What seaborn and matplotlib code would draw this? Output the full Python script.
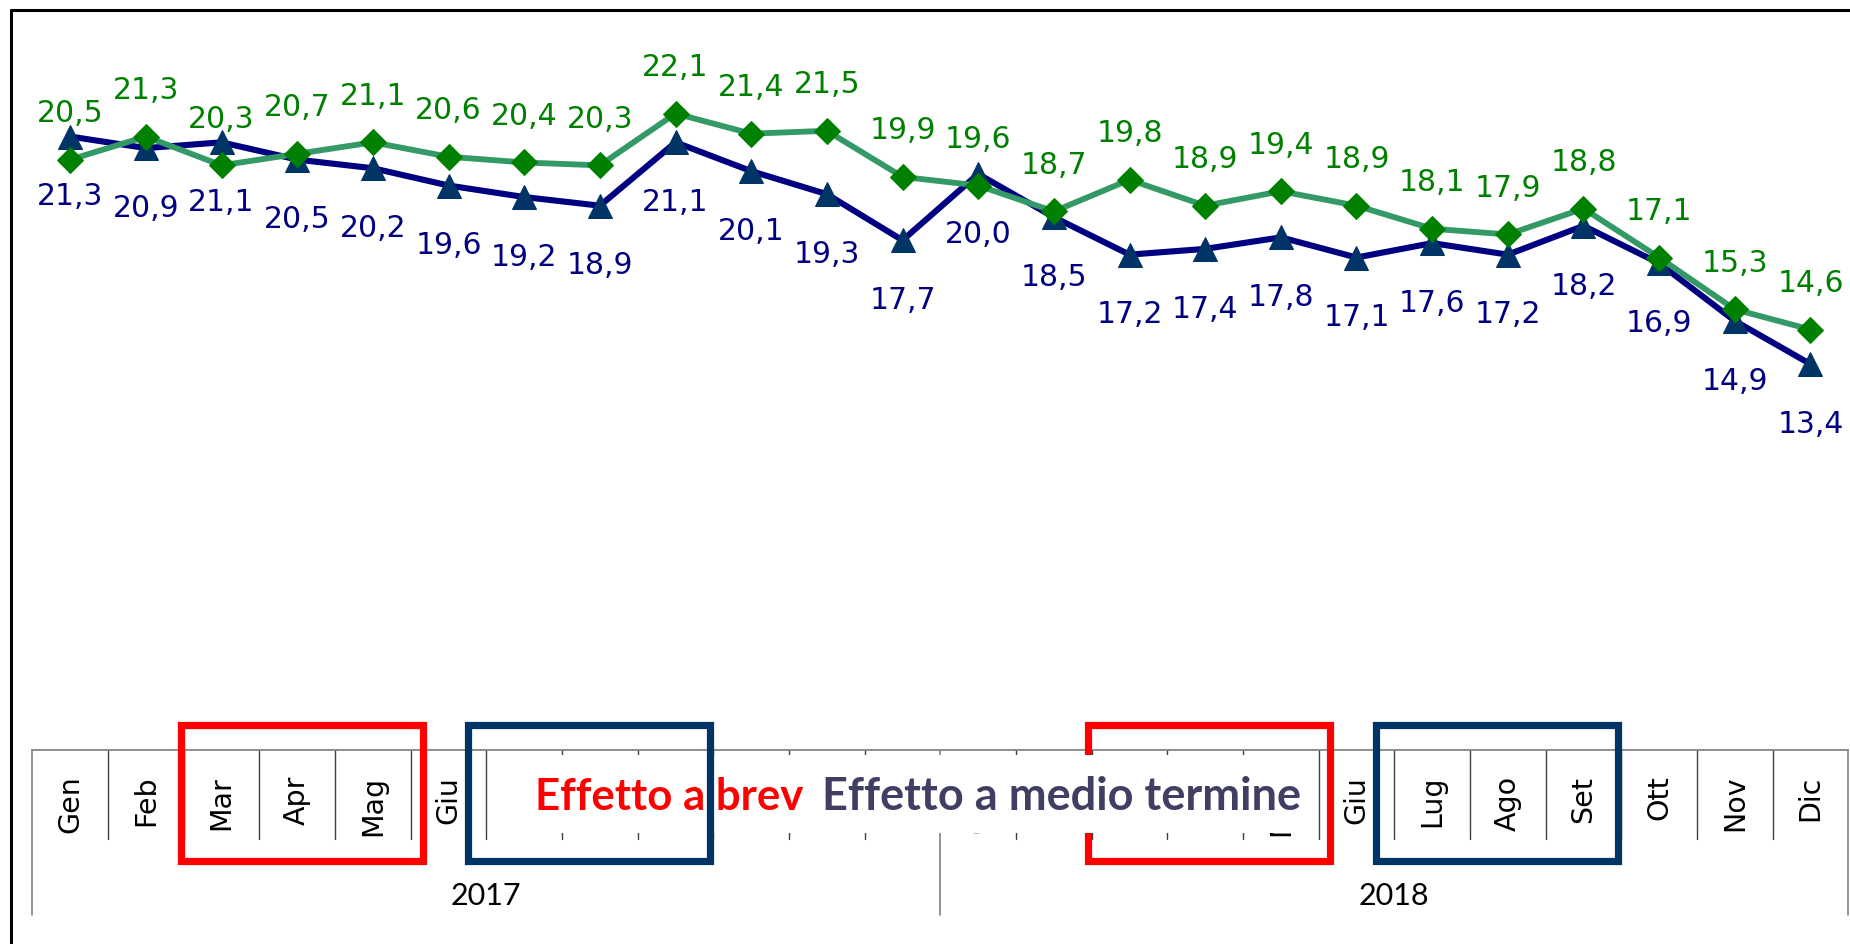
import matplotlib
matplotlib.use("Agg")
import numpy as np
import pandas as pd
import seaborn as sns
import matplotlib.pyplot as plt
import matplotlib.transforms as mtrans
from matplotlib.patches import Rectangle
from matplotlib.lines import Line2D

# ---------------- data ----------------
mesi = ["Gen", "Feb", "Mar", "Apr", "Mag", "Giu", "Lug", "Ago", "Set", "Ott", "Nov", "Dic"]
anni = ["2017", "2018"]
serie_verde = [20.5, 21.3, 20.3, 20.7, 21.1, 20.6, 20.4, 20.3, 22.1, 21.4, 21.5, 19.9,
               19.6, 18.7, 19.8, 18.9, 19.4, 18.9, 18.1, 17.9, 18.8, 17.1, 15.3, 14.6]
serie_blu = [21.3, 20.9, 21.1, 20.5, 20.2, 19.6, 19.2, 18.9, 21.1, 20.1, 19.3, 17.7,
             20.0, 18.5, 17.2, 17.4, 17.8, 17.1, 17.6, 17.2, 18.2, 16.9, 14.9, 13.4]
testo_breve = "Effetto a breve termine"
testo_medio = "Effetto a medio termine"

W, H = 1850, 944

sns.set_style("white")
plt.rcParams["font.family"] = ["DejaVu Sans"]

fig = plt.figure(figsize=(W / 100, H / 100), dpi=100)
ax = fig.add_axes([32.4 / W, 1 - 750 / H, (1848.3 - 32.4) / W, (750 - 30) / H])

n = len(serie_verde)
etichette = [m for _ in anni for m in mesi]
df = pd.DataFrame({"pos": np.arange(n), "verde": serie_verde, "blu": serie_blu})

sns.lineplot(data=df, x="pos", y="blu", ax=ax, color="#000080", lw=4.4,
             marker="^", markersize=17, markerfacecolor="#003366",
             markeredgecolor="#003366", zorder=3)
sns.lineplot(data=df, x="pos", y="verde", ax=ax, color="#339966", lw=4.2,
             marker="D", markersize=13.5, markerfacecolor="#008000",
             markeredgecolor="#008000", zorder=4)

def fmt(v):
    return f"{v:.1f}".replace(".", ",")

for i, (g, b) in enumerate(zip(serie_verde, serie_blu)):
    ax.annotate(fmt(g), (i, g), xytext=(0, 27), textcoords="offset points",
                ha="center", va="baseline", fontsize=21.5, color="#008000", zorder=6)
    ax.annotate(fmt(b), (i, b), xytext=(0, -49.5), textcoords="offset points",
                ha="center", va="baseline", fontsize=21.5, color="#000080", zorder=6)

ax.set_xlim(-0.5, n - 0.5)
ax.set_ylim(0, 25)
ax.set_yticks([])
ax.set_xlabel("")
ax.set_ylabel("")
for s in ["left", "right", "top"]:
    ax.spines[s].set_visible(False)
ax.spines["bottom"].set_color("#868686")
ax.spines["bottom"].set_linewidth(1.3)

ax.set_xticks(np.arange(n))
ax.set_xticklabels(etichette)
ax.tick_params(axis="x", length=0, pad=18.5, labelsize=20.5, labelrotation=90,
               labelcolor="black")
for lab in ax.get_xticklabels():
    lab.set_fontsize(20.5)
    lab.set_family("DejaVu Sans")

# category separators
trans = mtrans.blended_transform_factory(ax.transData, fig.transFigure)
for k in range(n + 1):
    x = k - 0.5
    if k % 12 == 0:
        ax.plot([x, x], [1 - 750 / H, 1 - 915 / H], transform=trans, color="#808080",
                lw=1.2, clip_on=False, zorder=2)
    else:
        ax.plot([x, x], [1 - 750 / H, 1 - 839 / H], transform=trans, color="#404040",
                lw=1.0, clip_on=False, zorder=2)
ax.set_xlim(-0.5, n - 0.5)

for j, a in enumerate(anni):
    ax.text(j * 12 + 5.5, 1 - 905 / H, a, transform=trans, ha="center", va="baseline",
            fontsize=22, family="Lato", color="black")

# ---------------- overlays (figure pixel coords) ----------------
def add_rect(x0, y0, x1, y1, **kw):
    r = Rectangle((x0 / W, 1 - y1 / H), (x1 - x0) / W, (y1 - y0) / H,
                  transform=fig.transFigure, **kw)
    fig.patches.append(r)
    return r

add_rect(490, 755, 1312, 833, facecolor="white", edgecolor="none", zorder=1)
fig.text(535 / W, 1 - 810 / H, testo_breve, color="#FF0000", fontsize=31.5,
         family="Lato", weight="bold", ha="left", va="baseline", zorder=2)

lw_box = 5.2
add_rect(181, 725, 423, 861, facecolor="none", edgecolor="#FF0000", lw=lw_box, zorder=3)
add_rect(468, 725, 710, 861, facecolor="none", edgecolor="#003366", lw=lw_box, zorder=3)
add_rect(1088, 725, 1330, 861, facecolor="none", edgecolor="#FF0000", lw=lw_box, zorder=3)
add_rect(1376, 725, 1618, 861, facecolor="none", edgecolor="#003366", lw=lw_box, zorder=3)

add_rect(803, 755, 1312, 833, facecolor="white", edgecolor="none", zorder=4)
fig.text(822 / W, 1 - 810 / H, testo_medio, color="#403F63", fontsize=32.5,
         family="Lato", weight="bold", ha="left", va="baseline", zorder=5)

# chart frame
fig.add_artist(Line2D([11 / W, 11 / W], [0, 1 - 10 / H], color="black", lw=2.2,
                      transform=fig.transFigure))
fig.add_artist(Line2D([11 / W, 1], [1 - 10 / H, 1 - 10 / H], color="black", lw=2.2,
                      transform=fig.transFigure))

fig.savefig("out.png", dpi=100)
